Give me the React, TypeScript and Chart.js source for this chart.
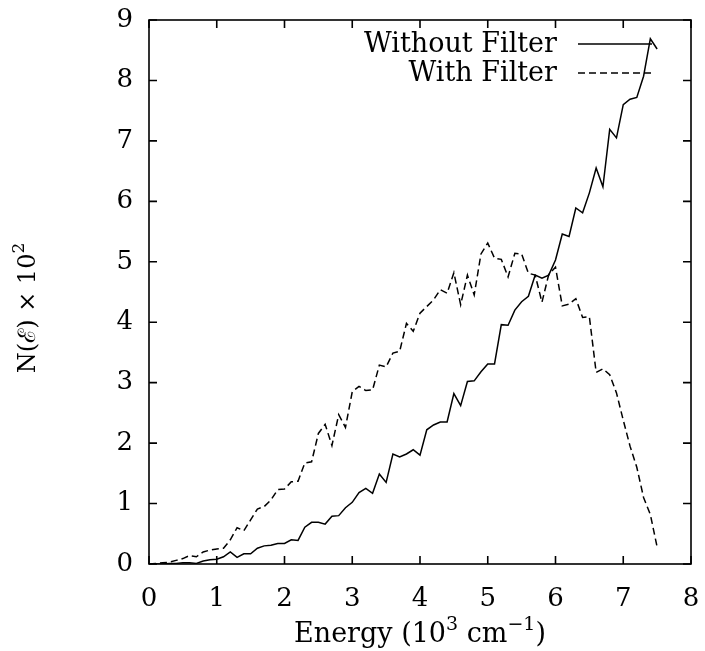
import React, { useEffect, useRef } from 'react';
import { Chart, registerables } from 'chart.js';

Chart.register(...registerables);

// Energy in units of 10^3 cm^-1
const energy = [
  0.0, 0.1, 0.2, 0.3, 0.4, 0.5, 0.6, 0.7, 0.8, 0.9,
  1.0, 1.1, 1.2, 1.3, 1.4, 1.5, 1.6, 1.7, 1.8, 1.9,
  2.0, 2.1, 2.2, 2.3, 2.4, 2.5, 2.6, 2.7, 2.8, 2.9,
  3.0, 3.1, 3.2, 3.3, 3.4, 3.5, 3.6, 3.7, 3.8, 3.9,
  4.0, 4.1, 4.2, 4.3, 4.4, 4.5, 4.6, 4.7, 4.8, 4.9,
  5.0, 5.1, 5.2, 5.3, 5.4, 5.5, 5.6, 5.7, 5.8, 5.9,
  6.0, 6.1, 6.2, 6.3, 6.4, 6.5, 6.6, 6.7, 6.8, 6.9,
  7.0, 7.1, 7.2, 7.3, 7.4, 7.5,
];

const withoutFilter = [
  0.0, 0.0, 0.0, 0.01, 0.01, 0.02, 0.02, 0.01, 0.05, 0.07,
  0.08, 0.12, 0.2, 0.11, 0.17, 0.17, 0.26, 0.3, 0.31, 0.34,
  0.34, 0.4, 0.39, 0.61, 0.69, 0.69, 0.66, 0.79, 0.8, 0.93,
  1.02, 1.18, 1.25, 1.17, 1.49, 1.35, 1.82, 1.77, 1.82, 1.89,
  1.8, 2.22, 2.3, 2.35, 2.35, 2.82, 2.62, 3.02, 3.03, 3.18,
  3.31, 3.31, 3.96, 3.95, 4.2, 4.34, 4.43, 4.78, 4.73, 4.78,
  5.03, 5.46, 5.42, 5.89, 5.81, 6.14, 6.55, 6.24, 7.19, 7.05,
  7.6, 7.69, 7.72, 8.07, 8.69, 8.52,
];

const withFilter = [
  0.0, 0.01, 0.02, 0.03, 0.06, 0.09, 0.14, 0.12, 0.2, 0.23,
  0.25, 0.26, 0.4, 0.6, 0.55, 0.73, 0.91, 0.95, 1.06, 1.23,
  1.24, 1.36, 1.37, 1.67, 1.69, 2.16, 2.31, 1.96, 2.47, 2.26,
  2.85, 2.94, 2.87, 2.88, 3.29, 3.26, 3.49, 3.52, 3.98, 3.85,
  4.15, 4.26, 4.37, 4.54, 4.48, 4.82, 4.29, 4.78, 4.45, 5.13,
  5.31, 5.06, 5.04, 4.75, 5.14, 5.13, 4.81, 4.78, 4.33, 4.79,
  4.91, 4.27, 4.3, 4.39, 4.08, 4.09, 3.17, 3.23, 3.13, 2.83,
  2.38, 1.95, 1.6, 1.1, 0.82, 0.28,
];

const seriesLabels = ['Without Filter', 'With Filter'];
const xTicks = [0, 1, 2, 3, 4, 5, 6, 7, 8];
const yTicks = [0, 1, 2, 3, 4, 5, 6, 7, 8, 9];

const FONT = '"DejaVu Serif", "Liberation Serif", serif';

type Seg = { t: string; sup?: boolean };

function drawRich(ctx: CanvasRenderingContext2D, segs: Seg[], size: number, cx: number, cy: number) {
  const supSize = Math.round(size * 0.7);
  let total = 0;
  const widths = segs.map((s) => {
    ctx.font = `${s.sup ? supSize : size}px ${FONT}`;
    const w = ctx.measureText(s.t).width;
    total += w;
    return w;
  });
  let x = cx - total / 2;
  ctx.textBaseline = 'middle';
  ctx.textAlign = 'left';
  segs.forEach((s, i) => {
    ctx.font = `${s.sup ? supSize : size}px ${FONT}`;
    ctx.fillText(s.t, x, s.sup ? cy - size * 0.38 : cy);
    x += widths[i];
  });
}

const framePlugin = {
  id: 'gnuplotFrame',
  afterDraw(chart: any) {
    const { ctx, chartArea } = chart;
    const { left, right, top, bottom } = chartArea;
    const xs = chart.scales.x;
    const ys = chart.scales.y;
    ctx.save();
    ctx.strokeStyle = '#000';
    ctx.fillStyle = '#000';
    ctx.lineWidth = 1.6;
    ctx.setLineDash([]);
    ctx.strokeRect(left, top, right - left, bottom - top);
    const tl = 8;
    ctx.beginPath();
    xTicks.forEach((v) => {
      const px = xs.getPixelForValue(v);
      ctx.moveTo(px, bottom);
      ctx.lineTo(px, bottom - tl);
      ctx.moveTo(px, top);
      ctx.lineTo(px, top + tl);
    });
    yTicks.forEach((v) => {
      const py = ys.getPixelForValue(v);
      ctx.moveTo(left, py);
      ctx.lineTo(left + tl, py);
      ctx.moveTo(right, py);
      ctx.lineTo(right - tl, py);
    });
    ctx.stroke();

    // legend
    const lx1 = right - 113;
    const lx2 = right - 39;
    const rows = [top + 24, top + 53];
    ctx.font = `27px ${FONT}`;
    ctx.textAlign = 'right';
    ctx.textBaseline = 'middle';
    seriesLabels.forEach((lab, i) => {
      ctx.fillText(lab, lx1 - 21, rows[i] + 1);
      ctx.beginPath();
      ctx.lineWidth = 1.5;
      ctx.setLineDash(i === 1 ? [7, 4] : []);
      ctx.moveTo(lx1, rows[i]);
      ctx.lineTo(lx2, rows[i]);
      ctx.stroke();
    });
    ctx.setLineDash([]);

    // axis titles
    drawRich(ctx, [{ t: 'Energy (10' }, { t: '3', sup: true }, { t: ' cm' }, { t: '\u22121', sup: true }, { t: ')' }], 27, (left + right) / 2, 635);
    ctx.save();
    ctx.translate(29, 308);
    ctx.rotate(-Math.PI / 2);
    drawRich(ctx, [{ t: 'N(\u2130) \u00d7 10' }, { t: '2', sup: true }], 24, 0, 0);
    ctx.restore();
    ctx.restore();
  },
};

export default function App() {
  const ref = useRef<HTMLCanvasElement | null>(null);
  useEffect(() => {
    document.body.style.margin = '0';
    const canvas = ref.current!;
    const chart = new Chart(canvas, {
      type: 'line',
      data: {
        datasets: [
          {
            label: seriesLabels[0],
            data: energy.map((x, i) => ({ x, y: withoutFilter[i] })),
            borderColor: '#000',
            borderWidth: 1.5,
            pointRadius: 0,
            tension: 0,
            fill: false,
          },
          {
            label: seriesLabels[1],
            data: energy.map((x, i) => ({ x, y: withFilter[i] })),
            borderColor: '#000',
            borderWidth: 1.5,
            borderDash: [7, 4],
            pointRadius: 0,
            tension: 0,
            fill: false,
          },
        ],
      },
      options: {
        animation: false,
        responsive: false,
        maintainAspectRatio: false,
        layout: { padding: { top: 20, right: 14, left: 0, bottom: 0 } },
        plugins: { legend: { display: false }, tooltip: { enabled: false } },
        scales: {
          x: {
            type: 'linear',
            min: 0,
            max: 8,
            afterBuildTicks: (s: any) => { s.ticks = xTicks.map((v) => ({ value: v })); },
            afterFit: (s: any) => { s.height = 87; s.paddingLeft = 0; s.paddingRight = 0; },
            ticks: { color: '#000', font: { family: FONT, size: 26 }, padding: 20, maxRotation: 0 },
            grid: { display: false, drawTicks: false },
            border: { display: false },
          },
          y: {
            type: 'linear',
            min: 0,
            max: 9,
            afterBuildTicks: (s: any) => { s.ticks = yTicks.map((v) => ({ value: v })); },
            afterFit: (s: any) => { s.width = 149; s.paddingTop = 0; s.paddingBottom = 0; },
            ticks: { color: '#000', font: { family: FONT, size: 26 }, padding: 16 },
            grid: { display: false, drawTicks: false },
            border: { display: false },
          },
        },
      },
      plugins: [framePlugin],
    });
    return () => chart.destroy();
  }, []);
  return (
    <div style={{ width: 705, height: 651, background: '#fff' }}>
      <canvas ref={ref} width={705} height={651} style={{ display: 'block' }} />
    </div>
  );
}
